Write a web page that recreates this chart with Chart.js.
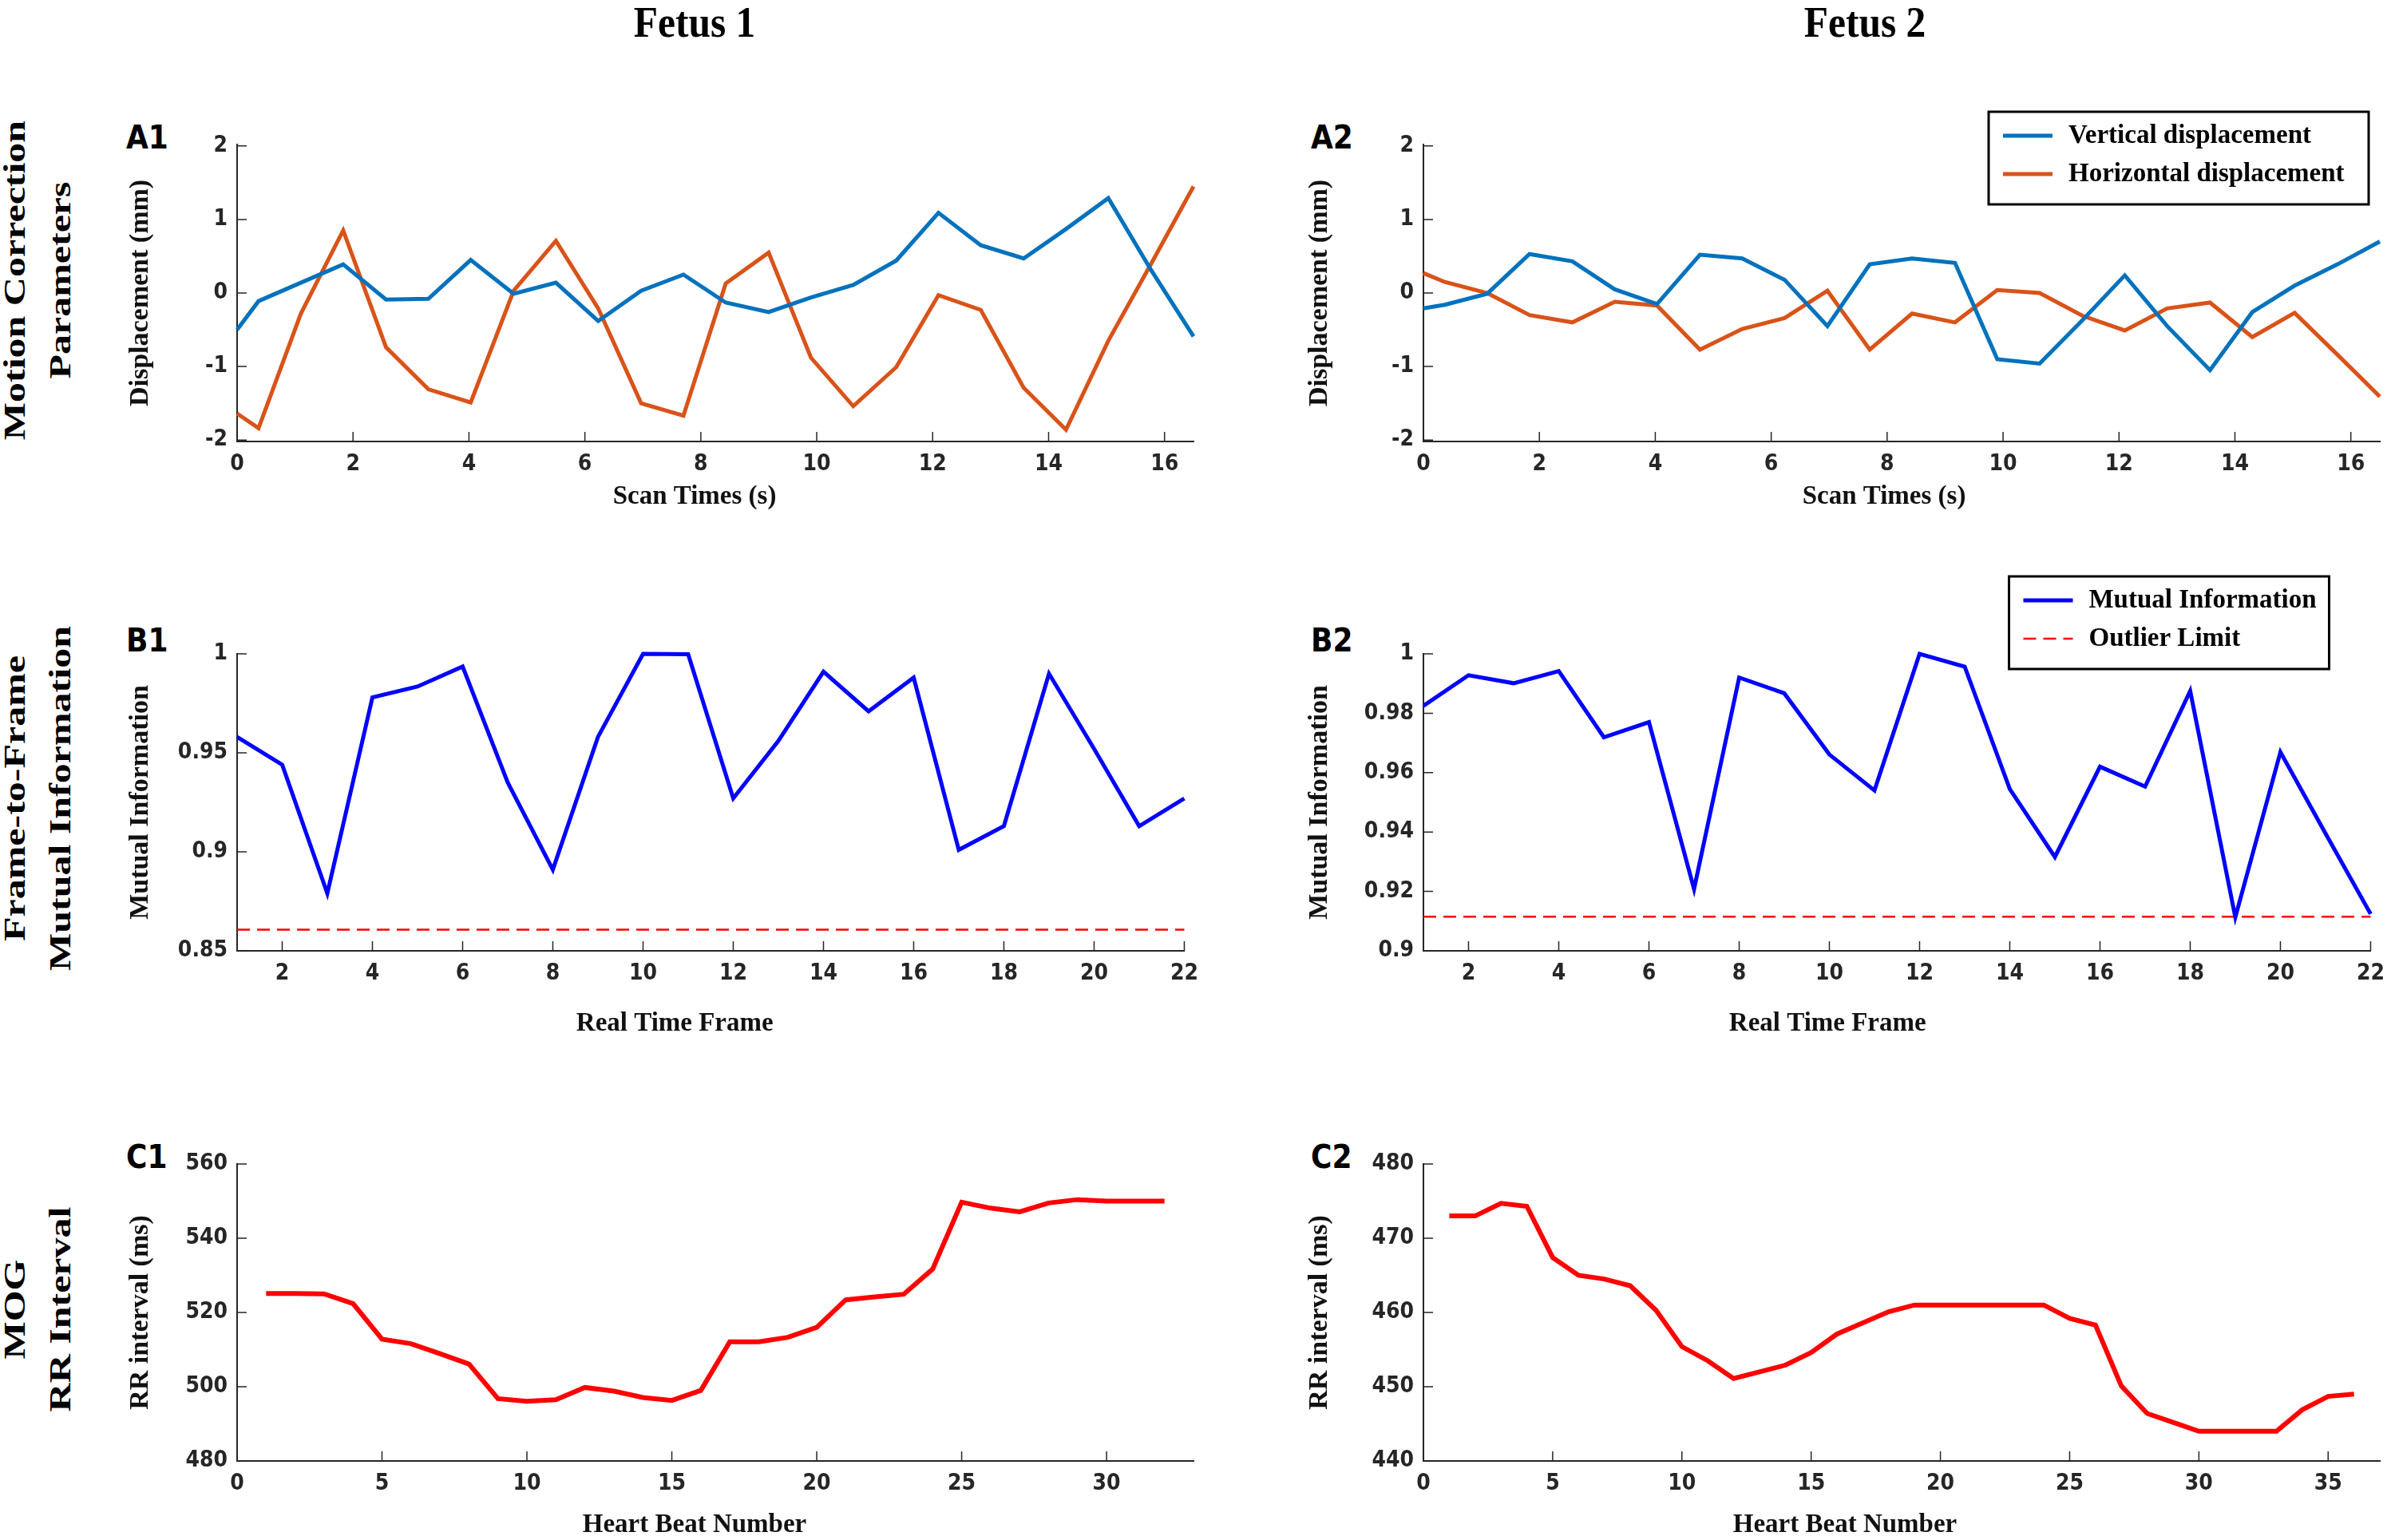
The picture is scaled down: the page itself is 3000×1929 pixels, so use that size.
<!DOCTYPE html>
<html>
<head>
<meta charset="utf-8">
<script src="https://cdn.jsdelivr.net/npm/chart.js@4.4.1/dist/chart.umd.min.js"></script>
<style>
  html, body { margin: 0; padding: 0; background: #fff; }
  body { width: 3000px; height: 1929px; position: relative; overflow: hidden; }
  canvas { position: absolute; }
  .col-title { position: absolute; font: bold 55px "Liberation Serif", serif; color: #000; white-space: nowrap; transform: translate(-50%, -50%) scaleX(0.9); }
  .row-label { position: absolute; font: bold 50px "Liberation Serif", serif; color: #000; line-height: 77px; text-align: center; white-space: nowrap; transform: translate(-50%, -50%) rotate(-90deg) scaleY(0.75); }
  .panel-label { position: absolute; font: bold 40px "DejaVu Sans Condensed", "DejaVu Sans", sans-serif; color: #000; line-height: 1; transform: translateY(-50%); }
</style>
</head>
<body>
<div class="col-title" style="left:870px; top:27px">Fetus 1</div>
<div class="col-title" style="left:2336px; top:27px">Fetus 2</div>
<div class="row-label" style="left:47px; top:351px">Motion Correction<br>Parameters</div>
<div class="row-label" style="left:47px; top:1000px">Frame-to-Frame<br>Mutual Information</div>
<div class="row-label" style="left:47px; top:1640px">MOG<br>RR Interval</div>
<div class="panel-label" style="left:158px; top:172px">A1</div>
<div class="panel-label" style="left:1642px; top:172px">A2</div>
<div class="panel-label" style="left:158px; top:802px">B1</div>
<div class="panel-label" style="left:1642px; top:802px">B2</div>
<div class="panel-label" style="left:158px; top:1449px">C1</div>
<div class="panel-label" style="left:1642px; top:1449px">C2</div>
<script>
// motion correction parameters (mm) against scan time (s)
var scanTimes = [0, 0.37, 1.1, 1.83, 2.57, 3.3, 4.03, 4.77, 5.5, 6.23, 6.97, 7.7, 8.43, 9.17, 9.9, 10.63, 11.37, 12.1, 12.83, 13.57, 14.3, 15.03, 15.77, 16.5];
var a1Vertical = [-0.50, -0.11, 0.14, 0.39, -0.09, -0.08, 0.45, -0.01, 0.14, -0.38, 0.03, 0.25, -0.13, -0.26, -0.06, 0.11, 0.44, 1.09, 0.65, 0.47, 0.87, 1.29, 0.31, -0.59];
var a1Horizontal = [-1.64, -1.84, -0.28, 0.85, -0.74, -1.31, -1.49, 0.03, 0.71, -0.21, -1.50, -1.67, 0.13, 0.55, -0.88, -1.54, -1.01, -0.03, -0.23, -1.29, -1.86, -0.65, 0.40, 1.45];
var a2Vertical = [-0.21, -0.16, -0.01, 0.53, 0.43, 0.05, -0.15, 0.52, 0.47, 0.18, -0.45, 0.39, 0.47, 0.41, -0.90, -0.96, -0.37, 0.24, -0.45, -1.05, -0.26, 0.10, 0.39, 0.70];
var a2Horizontal = [0.27, 0.15, 0.00, -0.30, -0.40, -0.12, -0.17, -0.77, -0.49, -0.34, 0.03, -0.77, -0.28, -0.40, 0.04, 0.00, -0.31, -0.51, -0.21, -0.13, -0.60, -0.27, -0.84, -1.41];

// frame-to-frame mutual information
var frames = [1, 2, 3, 4, 5, 6, 7, 8, 9, 10, 11, 12, 13, 14, 15, 16, 17, 18, 19, 20, 21, 22];
var b1Mutual = [0.958, 0.944, 0.879, 0.978, 0.9835, 0.9936, 0.935, 0.891, 0.958, 1.000, 0.9998, 0.927, 0.956, 0.991, 0.971, 0.988, 0.901, 0.913, 0.990, 0.952, 0.913, 0.927];
var b2Mutual = [0.9825, 0.9928, 0.9901, 0.9942, 0.9719, 0.9770, 0.9208, 0.9920, 0.9867, 0.9661, 0.9540, 1.000, 0.9957, 0.9545, 0.9316, 0.9620, 0.9553, 0.9875, 0.9113, 0.9669, 0.9395, 0.9124];
var b1Outlier = 0.8607;
var b2Outlier = 0.9115;

// MOG RR interval (ms) per heart beat
var c1Beats = [1, 2, 3, 4, 5, 6, 7, 8, 9, 10, 11, 12, 13, 14, 15, 16, 17, 18, 19, 20, 21, 22, 23, 24, 25, 26, 27, 28, 29, 30, 31, 32];
var c1Interval = [525.1, 525.1, 525.0, 522.4, 512.8, 511.6, 508.9, 506.1, 496.8, 496.1, 496.5, 499.8, 498.8, 497.1, 496.3, 499.0, 512.1, 512.1, 513.3, 516.0, 523.4, 524.2, 524.9, 531.7, 549.7, 548.1, 547.1, 549.5, 550.4, 550.0, 550.0, 550.0];
var c2Beats = [1, 2, 3, 4, 5, 6, 7, 8, 9, 10, 11, 12, 13, 14, 15, 16, 17, 18, 19, 20, 21, 22, 23, 24, 25, 26, 27, 28, 29, 30, 31, 32, 33, 34, 35, 36];
var c2Interval = [473.0, 473.0, 474.7, 474.3, 467.4, 465.0, 464.5, 463.6, 460.3, 455.4, 453.5, 451.1, 452.0, 452.9, 454.6, 457.1, 458.6, 460.1, 461.0, 461.0, 461.0, 461.0, 461.0, 461.0, 459.2, 458.3, 450.1, 446.4, 445.2, 444.0, 444.0, 444.0, 444.0, 446.9, 448.7, 449.0];

// tick labels
var aXTicks = [0, 2, 4, 6, 8, 10, 12, 14, 16];
var aYTicks = [-2, -1, 0, 1, 2];
var bXTicks = [2, 4, 6, 8, 10, 12, 14, 16, 18, 20, 22];
var b1YTicks = [0.85, 0.9, 0.95, 1];
var b2YTicks = [0.9, 0.92, 0.94, 0.96, 0.98, 1];
var c1XTicks = [0, 5, 10, 15, 20, 25, 30];
var c2XTicks = [0, 5, 10, 15, 20, 25, 30, 35];
var c1YTicks = [480, 500, 520, 540, 560];
var c2YTicks = [440, 450, 460, 470, 480];

var AXIS_COLOR = '#262626';
var BLUE = '#0072BD';
var ORANGE = '#D95319';
var Y_BOX = 180;
var TOP_PAD = 110;
var RIGHT_PAD = 18;
var TICK_FONT = { family: "'DejaVu Sans Condensed', 'DejaVu Sans', sans-serif", weight: 'bold', size: 28 };

var leftCol = { l: 297, r: 1495, titleX: 59 };
var rightCol = { l: 1783, r: 2981, titleX: 50 };
var rowA = { t: 181, b: 553, bp: 100, titleY: 69 };
var rowB = { t: 819, b: 1191, bp: 120, titleY: 91 };
var rowC = { t: 1458, b: 1830, bp: 99, titleY: 80 };

function points(xs, ys) {
  return xs.map(function (x, i) { return { x: x, y: ys[i] }; });
}

// MATLAB style ticks pointing into the plot
var innerTicks = {
  id: 'innerTicks',
  afterDraw: function (chart) {
    var ctx = chart.ctx, a = chart.chartArea, x = chart.scales.x, y = chart.scales.y;
    ctx.save();
    ctx.strokeStyle = AXIS_COLOR;
    ctx.lineWidth = 1.5;
    ctx.beginPath();
    x.ticks.forEach(function (t) {
      var px = x.getPixelForValue(t.value);
      ctx.moveTo(px, a.bottom);
      ctx.lineTo(px, a.bottom - 12);
    });
    y.ticks.forEach(function (t) {
      var py = y.getPixelForValue(t.value);
      ctx.moveTo(a.left, py);
      ctx.lineTo(a.left + 12, py);
    });
    ctx.stroke();
    ctx.restore();
  }
};

// x axis title, a little left of the plot centre as in the figure
var xTitle = {
  id: 'xTitle',
  afterDraw: function (chart, args, opts) {
    var ctx = chart.ctx, a = chart.chartArea;
    ctx.save();
    ctx.font = "bold 33px 'Liberation Serif', serif";
    ctx.fillStyle = '#111';
    ctx.textAlign = 'center';
    ctx.textBaseline = 'middle';
    ctx.fillText(opts.text, (a.left + a.right) / 2 + opts.dx, a.bottom + opts.dy);
    ctx.restore();
  }
};

// legend in a black frame, placed relative to the plot area
var boxLegend = {
  id: 'boxLegend',
  afterDraw: function (chart, args, opts) {
    if (!opts.display) return;
    var ctx = chart.ctx, a = chart.chartArea;
    var bx = a.right - opts.right - opts.w, by = a.top + opts.top;
    ctx.save();
    ctx.fillStyle = '#fff';
    ctx.fillRect(bx, by, opts.w, opts.h);
    ctx.strokeStyle = '#000';
    ctx.lineWidth = 3;
    ctx.strokeRect(bx, by, opts.w, opts.h);
    ctx.font = "bold 33px 'Liberation Serif', serif";
    ctx.textBaseline = 'middle';
    ctx.fillStyle = '#000';
    chart.data.datasets.forEach(function (ds, i) {
      var ry = by + opts.rows[i];
      ctx.strokeStyle = ds.borderColor;
      ctx.lineWidth = ds.borderWidth;
      ctx.setLineDash(ds.borderDash || []);
      ctx.beginPath();
      ctx.moveTo(bx + 18, ry);
      ctx.lineTo(bx + 80, ry);
      ctx.stroke();
      ctx.setLineDash([]);
      ctx.fillText(ds.label, bx + 100, ry);
    });
    ctx.restore();
  }
};

function renderPanel(cfg) {
  var canvas = document.createElement('canvas');
  var width = cfg.col.r - cfg.col.l + Y_BOX + RIGHT_PAD;
  var height = cfg.row.b - cfg.row.t + TOP_PAD + cfg.row.bp;
  canvas.width = width;
  canvas.height = height;
  canvas.style.left = (cfg.col.l - Y_BOX) + 'px';
  canvas.style.top = (cfg.row.t - TOP_PAD) + 'px';
  canvas.style.width = width + 'px';
  canvas.style.height = height + 'px';
  document.body.appendChild(canvas);

  new Chart(canvas.getContext('2d'), {
    type: 'line',
    data: { datasets: cfg.datasets },
    plugins: [innerTicks, xTitle, boxLegend],
    options: {
      responsive: false,
      animation: false,
      devicePixelRatio: 1,
      layout: { padding: { left: 0, top: TOP_PAD, right: RIGHT_PAD, bottom: 0 } },
      elements: { point: { radius: 0 }, line: { tension: 0 } },
      plugins: {
        legend: { display: false },
        tooltip: { enabled: false },
        xTitle: { text: cfg.xTitle, dx: cfg.titleDx, dy: cfg.row.titleY },
        boxLegend: cfg.legend || { display: false },
      },
      scales: {
        x: {
          type: 'linear',
          min: cfg.xMin,
          max: cfg.xMax,
          afterBuildTicks: function (s) { s.ticks = cfg.xTicks.map(function (v) { return { value: v }; }); },
          afterFit: function (s) { s.height = cfg.row.bp; },
          grid: { display: false, drawTicks: false },
          border: { color: AXIS_COLOR, width: 2 },
          ticks: { font: TICK_FONT, color: AXIS_COLOR, padding: 12, autoSkip: false, maxRotation: 0, callback: function (v) { return String(v); } },
        },
        y: {
          min: cfg.yMin,
          max: cfg.yMax,
          afterBuildTicks: function (s) { s.ticks = cfg.yTicks.map(function (v) { return { value: v }; }); },
          afterFit: function (s) { s.width = Y_BOX; },
          grid: { display: false, drawTicks: false },
          border: { color: AXIS_COLOR, width: 2 },
          ticks: { font: TICK_FONT, color: AXIS_COLOR, padding: 12, autoSkip: false, callback: function (v) { return String(v); } },
          title: { display: true, text: cfg.yTitle, color: '#111', font: { family: "'Liberation Serif', serif", weight: 'bold', size: 34 }, padding: { top: cfg.col.titleX - 20.4, bottom: 0 } },
        },
      },
    },
  });
}

function motionSets(vertical, horizontal) {
  return [
    { label: 'Vertical displacement', data: points(scanTimes, vertical), borderColor: BLUE, borderWidth: 5, clip: false },
    { label: 'Horizontal displacement', data: points(scanTimes, horizontal), borderColor: ORANGE, borderWidth: 5, clip: false },
  ];
}

function mutualSets(values, limit) {
  return [
    { label: 'Mutual Information', data: points(frames, values), borderColor: '#0000FF', borderWidth: 5, clip: false },
    { label: 'Outlier Limit', data: points(frames, frames.map(function () { return limit; })), borderColor: '#FF0000', borderWidth: 2.5, borderDash: [16, 9], clip: false },
  ];
}

function rrSets(beats, values) {
  return [{ label: 'RR interval', data: points(beats, values), borderColor: '#FF0000', borderWidth: 6, clip: false }];
}

renderPanel({ col: leftCol, row: rowA, datasets: motionSets(a1Vertical, a1Horizontal), xMin: 0, xMax: 16.5, yMin: -2.02, yMax: 2.02, xTicks: aXTicks, yTicks: aYTicks, xTitle: 'Scan Times (s)', titleDx: -26, yTitle: 'Displacement (mm)' });
renderPanel({ col: rightCol, row: rowA, datasets: motionSets(a2Vertical, a2Horizontal), xMin: 0, xMax: 16.5, yMin: -2.02, yMax: 2.02, xTicks: aXTicks, yTicks: aYTicks, xTitle: 'Scan Times (s)', titleDx: -22, yTitle: 'Displacement (mm)',
  legend: { display: true, right: 14, top: -41, w: 476, h: 116, rows: [30, 78] } });
renderPanel({ col: leftCol, row: rowB, datasets: mutualSets(b1Mutual, b1Outlier), xMin: 1, xMax: 22, yMin: 0.85, yMax: 1, xTicks: bXTicks, yTicks: b1YTicks, xTitle: 'Real Time Frame', titleDx: -45, yTitle: 'Mutual Information' });
renderPanel({ col: rightCol, row: rowB, datasets: mutualSets(b2Mutual, b2Outlier), xMin: 1, xMax: 22, yMin: 0.9, yMax: 1, xTicks: bXTicks, yTicks: b2YTicks, xTitle: 'Real Time Frame', titleDx: -87, yTitle: 'Mutual Information',
  legend: { display: true, right: 52, top: -97, w: 401, h: 116, rows: [30, 78] } });
renderPanel({ col: leftCol, row: rowC, datasets: rrSets(c1Beats, c1Interval), xMin: 0, xMax: 33, yMin: 480, yMax: 560, xTicks: c1XTicks, yTicks: c1YTicks, xTitle: 'Heart Beat Number', titleDx: -26, yTitle: 'RR interval (ms)' });
renderPanel({ col: rightCol, row: rowC, datasets: rrSets(c2Beats, c2Interval), xMin: 0, xMax: 37, yMin: 440, yMax: 480, xTicks: c2XTicks, yTicks: c2YTicks, xTitle: 'Heart Beat Number', titleDx: -71, yTitle: 'RR interval (ms)' });
</script>
</body>
</html>
